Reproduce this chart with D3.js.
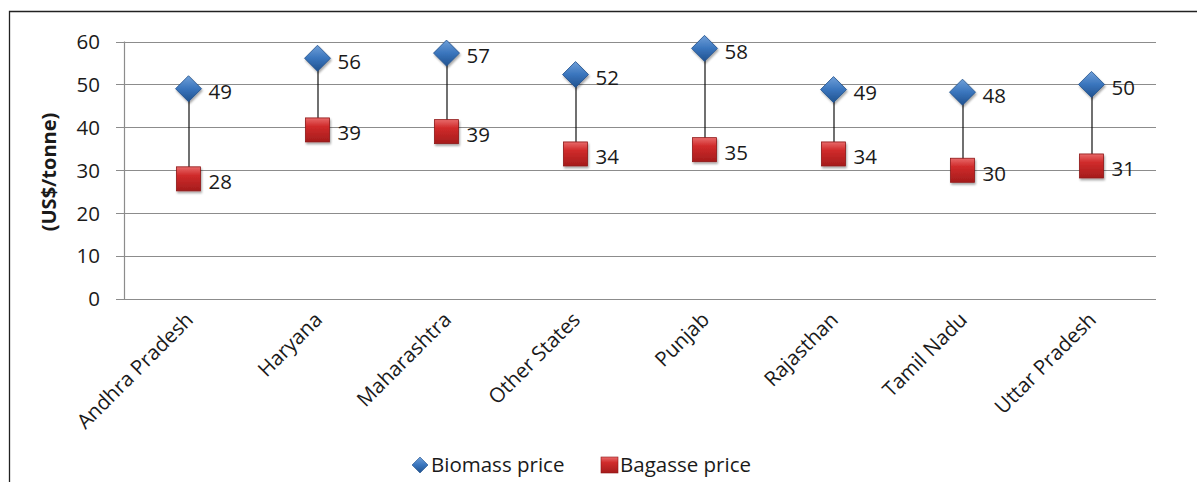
<!DOCTYPE html>
<html><head><meta charset="utf-8">
<script src="https://cdn.jsdelivr.net/npm/d3@7"></script>
<style>
html,body{margin:0;padding:0;background:#fff;}
svg{display:block;font-family:"Open Sans","Noto Sans","Liberation Sans",sans-serif;}
</style></head>
<body>
<svg id="chart" width="1197" height="482"></svg>
<script>
const categories = ["Andhra Pradesh","Haryana","Maharashtra","Other States","Punjab","Rajasthan","Tamil Nadu","Uttar Pradesh"];
const biomass = [49.0, 56.1, 57.3, 52.3, 58.4, 48.8, 48.2, 50.0];
const bagasse = [28.0, 39.4, 39.0, 33.8, 34.8, 33.8, 30.0, 31.0];
const yTicks = [0,10,20,30,40,50,60];
const seriesNames = ["Biomass price","Bagasse price"];

(function(){
const svg = d3.select("#chart");
const W = 1197, H = 482;
const pLeft = 124, pRight = 1156, pTop = 41.5, pBottom = 299;
const FS = 20.5;

// outer border
svg.append("path").attr("d", `M9.5,${H} V11.5 H${W}`).attr("fill","none").attr("stroke","#222").attr("stroke-width",1.3);

const defs = svg.append("defs");
const gb = defs.append("linearGradient").attr("id","gBlue").attr("x1",0).attr("y1",0).attr("x2",0).attr("y2",1);
gb.append("stop").attr("offset","0%").attr("stop-color","#6f9fd8");
gb.append("stop").attr("offset","50%").attr("stop-color","#3a75bd");
gb.append("stop").attr("offset","100%").attr("stop-color","#20528f");
const gr = defs.append("linearGradient").attr("id","gRed").attr("x1",0).attr("y1",0).attr("x2",0).attr("y2",1);
gr.append("stop").attr("offset","0%").attr("stop-color","#e86a6a");
gr.append("stop").attr("offset","35%").attr("stop-color","#d02b2b");
gr.append("stop").attr("offset","100%").attr("stop-color","#a51c1c");
const sh = defs.append("filter").attr("id","shadow").attr("x","-30%").attr("y","-30%").attr("width","170%").attr("height","170%");
sh.append("feDropShadow").attr("dx",1).attr("dy",2).attr("stdDeviation",1.2).attr("flood-color","#000").attr("flood-opacity",0.35);

const x = d3.scaleBand().domain(categories).range([pLeft,pRight]);
const y = d3.scaleLinear().domain([0,60]).range([pBottom,pTop]);

// gridlines
svg.append("g").selectAll("line").data(yTicks).join("line")
  .attr("x1",pLeft-8).attr("x2",pRight)
  .attr("y1",d=>Math.round(y(d))+0.5).attr("y2",d=>Math.round(y(d))+0.5)
  .attr("stroke","#8c8c8c").attr("stroke-width",1.2);
// y axis line
svg.append("line").attr("x1",pLeft+0.5).attr("x2",pLeft+0.5).attr("y1",y(60)).attr("y2",y(0))
  .attr("stroke","#8c8c8c").attr("stroke-width",1.2);

// y tick labels
svg.append("g").selectAll("text").data(yTicks).join("text")
  .attr("x",100).attr("y",d=>y(d)).attr("dy","0.36em").attr("text-anchor","end")
  .attr("font-size",FS).attr("fill","#1a1a1a").text(d=>d);

// y title
svg.append("text").attr("transform",`translate(56,172) rotate(-90)`)
  .attr("text-anchor","middle").attr("font-size",FS-0.5).attr("font-weight","bold").attr("fill","#1a1a1a")
  .text("(US$/tonne)");

// x labels
svg.append("g").selectAll("text").data(categories).join("text")
  .attr("transform",d=>`translate(${x(d)+x.bandwidth()/2+6},${pBottom+22}) rotate(-45)`)
  .attr("text-anchor","end").attr("font-size",FS).attr("fill","#1a1a1a").text(d=>d);

const cx = i => x(categories[i]) + x.bandwidth()/2;

// connecting lines
svg.append("g").selectAll("line").data(categories).join("line")
  .attr("x1",(d,i)=>cx(i)+0.5).attr("x2",(d,i)=>cx(i)+0.5)
  .attr("y1",(d,i)=>y(biomass[i])).attr("y2",(d,i)=>y(bagasse[i]))
  .attr("stroke","#111").attr("stroke-width",1.2);

// squares
const sq = 24;
svg.append("g").selectAll("rect").data(bagasse).join("rect")
  .attr("x",(d,i)=>cx(i)-sq/2).attr("y",d=>y(d)-sq/2).attr("width",sq).attr("height",sq)
  .attr("fill","url(#gRed)").attr("stroke","#8e1616").attr("stroke-width",0.8).attr("filter","url(#shadow)");
// diamonds
const dr = 13;
svg.append("g").selectAll("path").data(biomass).join("path")
  .attr("d",(d,i)=>{const X=cx(i),Y=y(d);return `M${X},${Y-dr} L${X+dr},${Y} L${X},${Y+dr} L${X-dr},${Y} Z`;})
  .attr("fill","url(#gBlue)").attr("stroke","#1f4f8a").attr("stroke-width",0.8).attr("filter","url(#shadow)");

// data labels
svg.append("g").selectAll("text").data(biomass).join("text")
  .attr("x",(d,i)=>cx(i)+20).attr("y",d=>y(d)+3).attr("dy","0.36em")
  .attr("font-size",FS).attr("fill","#1a1a1a").text(d=>Math.round(d));
svg.append("g").selectAll("text").data(bagasse).join("text")
  .attr("x",(d,i)=>cx(i)+20).attr("y",d=>y(d)+3).attr("dy","0.36em")
  .attr("font-size",FS).attr("fill","#1a1a1a").text(d=>Math.round(d));

// legend
const lg = svg.append("g");
const ly = 465;
lg.append("path").attr("d",`M420,${ly-8} L428,${ly} L420,${ly+8} L412,${ly} Z`).attr("fill","url(#gBlue)").attr("stroke","#1f4f8a").attr("stroke-width",0.6);
lg.append("text").attr("x",431).attr("y",ly).attr("dy","0.36em").attr("font-size",FS).attr("fill","#1a1a1a").text(seriesNames[0]);
lg.append("rect").attr("x",601).attr("y",ly-8).attr("width",17).attr("height",16).attr("fill","url(#gRed)").attr("stroke","#8e1616").attr("stroke-width",0.6);
lg.append("text").attr("x",620).attr("y",ly).attr("dy","0.36em").attr("font-size",FS).attr("fill","#1a1a1a").text(seriesNames[1]);
})();
</script>
</body></html>
